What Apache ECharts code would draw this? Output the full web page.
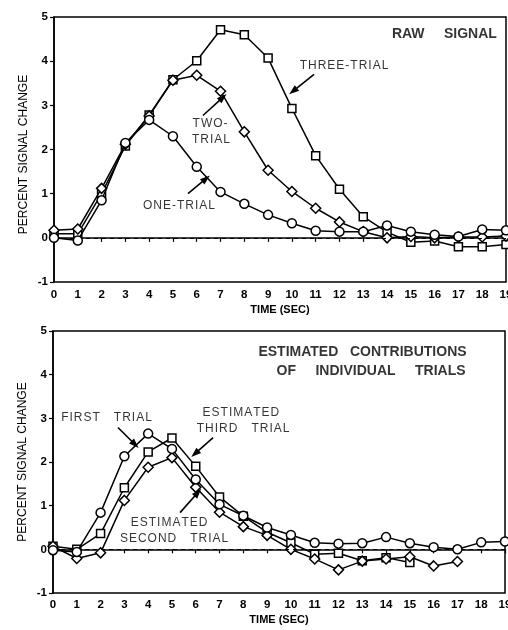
<!DOCTYPE html>
<html><head><meta charset="utf-8">
<script src="https://cdn.jsdelivr.net/npm/echarts@6/dist/echarts.min.js"></script>
<style>html,body{margin:0;padding:0;background:#fff}#c{width:508px;height:630px}</style>
</head><body><div id="c"></div>
<script>
// ---- data ----
var times = [0,1,2,3,4,5,6,7,8,9,10,11,12,13,14,15,16,17,18,19];
var xTicks = ['0','1','2','3','4','5','6','7','8','9','10','11','12','13','14','15','16','17','18','19'];
var yTicks = ['-1','0','1','2','3','4','5'];
// top panel: raw signal
var oneTrial   = [0.0,-0.06,0.85,2.15,2.67,2.3,1.61,1.04,0.77,0.52,0.33,0.16,0.14,0.14,0.28,0.14,0.07,0.03,0.19,0.17];
var twoTrial   = [0.17,0.2,1.12,2.12,2.76,3.57,3.68,3.32,2.4,1.53,1.05,0.67,0.36,0.14,0.0,0.03,0.0,0.02,0.02,0.04];
var threeTrial = [0.09,0.09,1.0,2.08,2.78,3.58,4.01,4.71,4.6,4.07,2.93,1.86,1.1,0.48,0.13,-0.1,-0.07,-0.2,-0.2,-0.15];
// bottom panel: estimated contributions
var firstTrial  = [-0.02,-0.06,0.84,2.13,2.65,2.3,1.6,1.03,0.77,0.5,0.33,0.15,0.13,0.14,0.28,0.14,0.05,0.0,0.16,0.18];
var secondTrial = [0.07,-0.21,-0.08,1.12,1.88,2.1,1.42,0.85,0.52,0.32,0.0,-0.22,-0.47,-0.27,-0.22,-0.17,-0.38,-0.28];
var thirdTrial  = [0.07,0.0,0.36,1.41,2.23,2.55,1.9,1.2,0.76,0.39,0.15,-0.11,-0.09,-0.26,-0.19,-0.3];
// annotation text [x, y, text, kind] in data units ('b' = bold title, 'n' = letter-spaced note)
var topNotes = [[16.41,4.61,'RAW     SIGNAL','b'],[12.19,3.89,'THREE-TRIAL','n'],[6.56,2.59,'TWO-','n'],[6.6,2.22,'TRIAL','n'],[5.25,0.73,'ONE-TRIAL','n']];
var botNotes = [[13.01,4.51,'ESTIMATED   CONTRIBUTIONS','b'],[13.37,4.09,'OF     INDIVIDUAL     TRIALS','b'],[2.25,3.02,'FIRST   TRIAL','n'],[7.9,3.13,'ESTIMATED','n'],[7.99,2.76,'THIRD   TRIAL','n'],[4.88,0.61,'ESTIMATED','n'],[5.09,0.24,'SECOND   TRIAL','n']];
// arrows [tailX, tailY, headX, headY]
var topArrows = [[10.93,3.7,10.05,3.32],[6.26,2.77,7.1,3.18],[5.63,1.0,6.39,1.34]];
var botArrows = [[2.73,2.79,3.45,2.4],[6.73,2.56,5.97,2.19],[5.34,0.84,6.09,1.3]];

// ---- chart ----
var FONT = '"Liberation Sans", Arial, sans-serif';
function spaced(s){ return s.split('').join('\u200A'); }
function pairs(arr){ return arr.map(function(v,i){ return [times[i], v]; }); }
function xAx(gi, gap, nameGap){
  return {type:'value', gridIndex:gi, min:0, max:19, interval:1,
    name:'TIME (SEC)', nameLocation:'middle', nameGap:nameGap,
    nameTextStyle:{fontFamily:FONT,fontSize:11,fontWeight:'bold',color:'#000'},
    axisLine:{show:true,lineStyle:{color:'#000',width:1.5}},
    axisTick:{show:true,length:4,lineStyle:{color:'#000',width:1.2}},
    axisLabel:{margin:gap,fontFamily:FONT,fontSize:11.5,fontWeight:'bold',color:'#000',hideOverlap:false,
      showMinLabel:true, showMaxLabel:true,
      formatter:function(v){ return xTicks[times.indexOf(v)]; }},
    splitLine:{show:false}};
}
function yAx(gi, pad){
  return {type:'value', gridIndex:gi, min:-1, max:5, interval:1,
    name:'PERCENT SIGNAL CHANGE', nameLocation:'middle', nameGap:24, nameMoveOverlap:false,
    nameTextStyle:{fontFamily:FONT,fontSize:12,color:'#000',padding:pad},
    axisLine:{show:true,lineStyle:{color:'#000',width:1.5}},
    axisTick:{show:true,length:4,lineStyle:{color:'#000',width:1.2}},
    axisLabel:{margin:6,fontFamily:FONT,fontSize:11.5,fontWeight:'bold',color:'#000',
      formatter:function(v){ return yTicks[v+1]; }},
    splitLine:{show:false}};
}
function lineSeries(gi, arr, sym, size, z){
  return {type:'line', xAxisIndex:gi, yAxisIndex:gi, data:pairs(arr), symbol:sym, symbolSize:size,
    showAllSymbol:true, z:z, animation:false,
    lineStyle:{color:'#000',width:1.5}, itemStyle:{color:'#fff',borderColor:'#000',borderWidth:1.5}};
}
function zeroLine(gi){
  return {type:'line', xAxisIndex:gi, yAxisIndex:gi, data:[], animation:false,
    markLine:{silent:true, symbol:['none','none'], label:{show:false},
      lineStyle:{color:'#000',type:[4,4],width:1.2},
      data:[[{coord:[0,0]},{coord:[19,0]}]]}};
}
function notes(gi, arr){
  return {type:'scatter', xAxisIndex:gi, yAxisIndex:gi, symbolSize:1, animation:false, z:10,
    itemStyle:{color:'rgba(0,0,0,0)'},
    data:arr.map(function(n){ var b = n[3]==='b'; return {value:[n[0],n[1]],
      label:{show:true, position:'inside', formatter: b ? n[2] : spaced(n[2]), color:'#000', fontFamily:FONT,
        fontSize: b?14:12, fontWeight: b?'bold':'normal'}}; })};
}
function arrows(gi, arr){
  return {type:'line', xAxisIndex:gi, yAxisIndex:gi, data:[], animation:false,
    markLine:{silent:true, symbol:['none','triangle'], symbolSize:[7,10], label:{show:false},
      lineStyle:{color:'#000',type:'solid',width:1.6},
      data:arr.map(function(a){ return [{coord:[a[0],a[1]]},{coord:[a[2],a[3]]}]; })}};
}
var chart = echarts.init(document.getElementById('c'), null, {renderer:'canvas'});
chart.setOption({
  backgroundColor:'#fff',
  animation:false,
  grid:[
    {left:54, right:2, top:17, height:265, show:true, borderColor:'#000', borderWidth:1.5, backgroundColor:'transparent', containLabel:false, outerBoundsMode:'none'},
    {left:53, right:3, top:331, height:262, show:true, borderColor:'#000', borderWidth:1.5, backgroundColor:'transparent', containLabel:false, outerBoundsMode:'none'}
  ],
  xAxis:[xAx(0,7,22), xAx(1,6,21)],
  yAxis:[yAx(0,[0,10,0,0]), yAx(1,[0,0,0,0])],
  series:[
    zeroLine(0), zeroLine(1),
    lineSeries(0, threeTrial, 'rect', 8, 3),
    lineSeries(0, twoTrial, 'diamond', 10, 4),
    lineSeries(0, oneTrial, 'circle', 9, 5),
    lineSeries(1, thirdTrial, 'rect', 8, 3),
    lineSeries(1, secondTrial, 'diamond', 10, 4),
    lineSeries(1, firstTrial, 'circle', 9, 5),
    notes(0, topNotes), notes(1, botNotes),
    arrows(0, topArrows), arrows(1, botArrows)
  ]
});
</script></body></html>
